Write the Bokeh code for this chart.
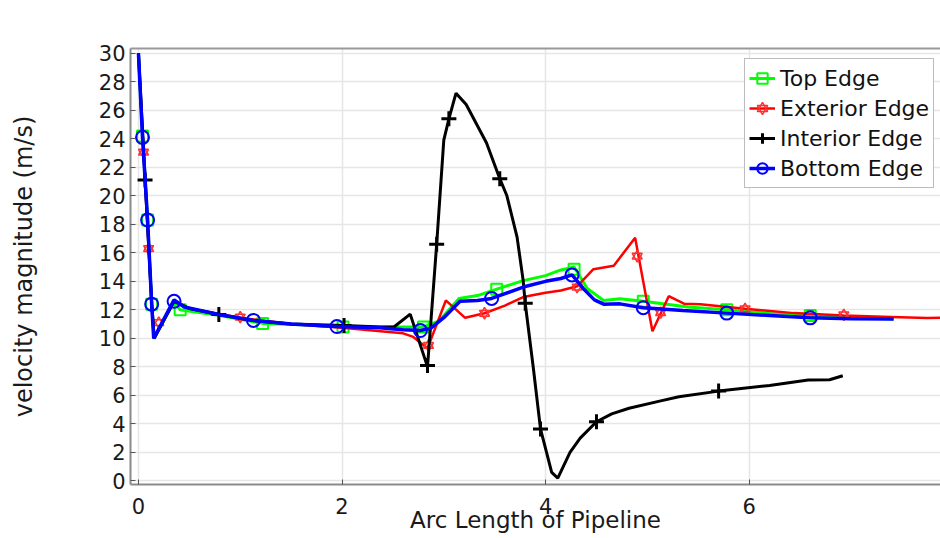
from bokeh.plotting import figure
from bokeh.models import Legend, LegendItem, FixedTicker, LinearAxis, Range1d
from bokeh.embed import file_html
from bokeh.resources import INLINE

# ---------------- data ----------------
top_x = [0.0, 0.04, 0.09, 0.13, 0.155, 0.35, 0.41, 0.8, 1.22, 1.6, 2.0, 2.4, 2.8, 2.95, 3.15, 3.33, 3.52, 3.78, 4.0, 4.15, 4.28, 4.41, 4.57, 4.73, 4.96, 5.4, 5.78, 6.2, 6.6, 7.0, 7.42]
top_y = [30.0, 24.2, 18.3, 12.4, 10.0, 12.6, 12.0, 11.6, 11.05, 10.95, 10.8, 10.8, 10.8, 11.2, 12.8, 13.0, 13.45, 14.05, 14.4, 14.8, 15.0, 13.5, 12.66, 12.78, 12.6, 12.2, 12.0, 11.75, 11.6, 11.45, 11.35]
top_mx = [0.04, 0.09, 0.13, 0.41, 1.22, 2.01, 2.8, 3.52, 4.28, 4.96, 5.78, 6.6]
top_my = [24.2, 18.3, 12.4, 12.0, 11.05, 10.8, 10.8, 13.45, 14.85, 12.6, 12.0, 11.6]

ext_x = [0.0, 0.05, 0.10, 0.15, 0.35, 0.5, 1.0, 1.5, 2.0, 2.38, 2.6, 2.7, 2.84, 3.02, 3.21, 3.4, 3.6, 3.78, 4.0, 4.15, 4.31, 4.47, 4.67, 4.88, 5.05, 5.21, 5.36, 5.52, 5.96, 6.44, 6.93, 7.4, 7.75, 7.9]
ext_y = [30.0, 23.2, 16.4, 10.0, 12.6, 12.1, 11.45, 11.0, 10.75, 10.5, 10.35, 10.1, 9.3, 12.66, 11.44, 11.76, 12.3, 12.9, 13.2, 13.36, 13.65, 14.85, 15.1, 17.05, 10.5, 12.96, 12.43, 12.4, 12.07, 11.77, 11.6, 11.5, 11.42, 11.45]
ext_mx = [0.05, 0.10, 0.20, 1.0, 2.85, 3.4, 4.31, 4.9, 5.13, 5.96, 6.93]
ext_my = [23.06, 16.3, 11.1, 11.49, 9.5, 11.76, 13.6, 15.76, 11.8, 12.07, 11.65]

int_x = [0.0, 0.13, 0.155, 0.35, 0.5, 0.79, 1.12, 1.5, 2.02, 2.38, 2.51, 2.67, 2.84, 2.93, 3.0, 3.05, 3.12, 3.22, 3.42, 3.55, 3.62, 3.72, 3.78, 3.80, 3.88, 3.95, 4.06, 4.12, 4.24, 4.34, 4.50, 4.65, 4.82, 5.12, 5.31, 5.70, 6.2, 6.58, 6.79, 6.92]
int_y = [30.0, 12.5, 10.0, 12.6, 12.1, 11.68, 11.25, 11.0, 10.9, 10.8, 10.8, 11.7, 8.0, 16.6, 23.9, 25.4, 27.2, 26.4, 23.7, 21.2, 20.0, 17.1, 14.05, 12.46, 7.9, 3.65, 0.6, 0.2, 2.0, 3.0, 4.15, 4.7, 5.1, 5.6, 5.9, 6.3, 6.7, 7.08, 7.1, 7.38]
int_mx = [0.065, 0.79, 2.02, 2.84, 2.93, 3.05, 3.55, 3.80, 3.95, 4.50, 5.70]
int_my = [21.1, 11.68, 10.9, 8.1, 16.6, 25.4, 21.2, 12.46, 3.65, 4.15, 6.3]

bot_x = [0.0, 0.04, 0.09, 0.13, 0.15, 0.35, 0.45, 0.8, 1.13, 1.5, 1.95, 2.37, 2.6, 2.77, 2.87, 3.0, 3.16, 3.33, 3.47, 3.78, 4.0, 4.15, 4.26, 4.37, 4.48, 4.57, 4.73, 4.96, 5.35, 5.78, 6.2, 6.6, 7.0, 7.42]
bot_y = [30.0, 24.1, 18.3, 12.4, 10.0, 12.7, 12.2, 11.65, 11.26, 11.0, 10.83, 10.75, 10.6, 10.55, 10.7, 11.45, 12.6, 12.65, 12.8, 13.6, 14.0, 14.2, 14.45, 13.5, 12.7, 12.4, 12.42, 12.15, 11.95, 11.77, 11.6, 11.44, 11.38, 11.35]
bot_mx = [0.04, 0.09, 0.13, 0.35, 1.13, 1.95, 2.77, 3.47, 4.26, 4.96, 5.78, 6.6]
bot_my = [24.1, 18.3, 12.4, 12.6, 11.26, 10.83, 10.55, 12.8, 14.45, 12.15, 11.77, 11.44]

x_ticks = [0, 2, 4, 6]
y_ticks = list(range(0, 31, 2))
series_names = ["Top Edge", "Exterior Edge", "Interior Edge", "Bottom Edge"]

# ---------------- figure ----------------
p = figure(width=940, height=538, output_backend="svg", toolbar_location=None,
           x_range=Range1d(-0.078, 7.88), y_range=Range1d(-0.25, 30.33),
           min_border_left=130, min_border_right=0, min_border_top=48,
           min_border_bottom=54, x_axis_label="Arc Length of Pipeline",
           y_axis_label="velocity magnitude (m/s)")
p.outline_line_color = None
p.background_fill_color = "white"
p.border_fill_color = "white"

for ax in (p.xaxis[0], p.yaxis[0]):
    ax.axis_line_color = "#8a8a8a"
    ax.axis_line_width = 2
    ax.major_tick_in = 5
    ax.major_tick_out = 0
    ax.major_tick_line_color = "#555555"
    ax.minor_tick_line_color = None
    ax.major_label_text_color = "#1a1a1a"
    ax.axis_label_text_color = "#1a1a1a"
    ax.axis_label_text_font_style = "normal"
    ax.axis_label_text_font = "DejaVu Sans"
    ax.major_label_text_font = "DejaVu Sans"

p.xaxis[0].ticker = FixedTicker(ticks=x_ticks)
p.yaxis[0].ticker = FixedTicker(ticks=y_ticks)
p.xaxis[0].major_label_text_font_size = "21px"
p.xaxis[0].major_label_standoff = 13
p.xaxis[0].axis_label_text_font_size = "23px"
p.xaxis[0].axis_label_standoff = -10
p.yaxis[0].major_label_text_font_size = "21px"
p.yaxis[0].major_label_standoff = 5
p.yaxis[0].axis_label_text_font_size = "24px"
p.yaxis[0].axis_label_standoff = 58

top_axis = LinearAxis(ticker=FixedTicker(ticks=[]), axis_line_color="#999999",
                      axis_line_width=2, major_label_text_font_size="0px",
                      major_tick_line_color=None, minor_tick_line_color=None)
p.add_layout(top_axis, "above")

p.xgrid.ticker = FixedTicker(ticks=x_ticks)
p.ygrid.ticker = FixedTicker(ticks=y_ticks)
p.grid.grid_line_color = "#e6e6e6"
p.grid.grid_line_width = 1.5

# ---------------- series ----------------
g_line = p.line(top_x, top_y, line_color="#00ff00", line_width=3)
g_mark = p.scatter(top_mx, top_my, marker="square", size=11, fill_color=None,
                   line_color="#00ff00", line_width=2)

r_line = p.line(ext_x, ext_y, line_color="#ff0000", line_width=2.5)
r_m1 = p.scatter(ext_mx, ext_my, marker="triangle", size=10, fill_color=None,
                 line_color="#ff3030", line_width=1.5)
r_m2 = p.scatter(ext_mx, ext_my, marker="inverted_triangle", size=10, fill_color=None,
                 line_color="#ff3030", line_width=1.5)

k_line = p.line(int_x, int_y, line_color="black", line_width=3)
k_mark = p.scatter(int_mx, int_my, marker="cross", size=15, line_color="black",
                   line_width=3)

b_line = p.line(bot_x, bot_y, line_color="#0000ff", line_width=3.5)
b_mark = p.scatter(bot_mx, bot_my, marker="circle", size=13, fill_color=None,
                   line_color="#0000ff", line_width=2)

legend = Legend(items=[
    LegendItem(label=series_names[0], renderers=[g_line, g_mark]),
    LegendItem(label=series_names[1], renderers=[r_line, r_m1, r_m2]),
    LegendItem(label=series_names[2], renderers=[k_line, k_mark]),
    LegendItem(label=series_names[3], renderers=[b_line, b_mark]),
], location=(614, 296))
legend.label_text_font = "DejaVu Sans"
legend.label_text_font_size = "22px"
legend.label_text_color = "#111111"
legend.glyph_width = 26
legend.glyph_height = 30
legend.label_height = 30
legend.label_standoff = 5
legend.spacing = 0
legend.padding = 4
legend.margin = 0
legend.border_line_color = "#7a7a7a"
legend.border_line_width = 1.5
legend.background_fill_alpha = 1.0
p.add_layout(legend)

open("out.html", "w").write(file_html(p, INLINE))
